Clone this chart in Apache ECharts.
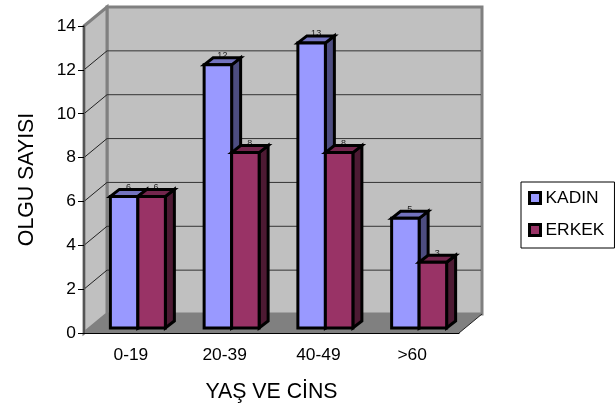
<!DOCTYPE html>
<html>
<head>
<meta charset="utf-8">
<style>
  html, body { margin: 0; padding: 0; background: #fff; }
  #main { width: 616px; height: 408px; }
</style>
<script src="https://cdn.jsdelivr.net/npm/echarts@6/dist/echarts.min.js"></script>
</head>
<body>
<div id="main"></div>
<script>
var categories = ['0-19', '20-39', '40-49', '>60'];
var kadin = [6, 12, 13, 5];
var erkek = [6, 8, 8, 3];
var yTicks = [2, 4, 6, 8, 10, 12, 14];

var FONT = '"Liberation Sans", Arial, sans-serif';
// depth of the fake 3d box
var WALL_DX = 23, WALL_DY = -19;
var BAR_W = 27.5, BAR_DX = 9, BAR_DY = -7;
var FRONT_DX = 7, FRONT_DY = -5;

function poly(points, fill, stroke, width, z2) {
  return {
    type: 'polygon',
    z2: z2 || 0,
    shape: { points: points },
    style: { fill: fill, stroke: stroke, lineWidth: width || 0, lineJoin: 'miter' }
  };
}

function line(x1, y1, x2, y2, color, width) {
  return {
    type: 'line',
    shape: { x1: x1, y1: y1, x2: x2, y2: y2 },
    style: { stroke: color, lineWidth: width }
  };
}

// walls, floor and gridlines
function renderWalls(params, api) {
  var o = api.coord([0, 0]);
  var half = api.size([1, 0])[0] / 2;
  var left = o[0] - half;
  var right = api.coord([categories.length - 1, 0])[0] + half;
  var bottom = o[1];
  var top = api.coord([0, 14])[1];
  var dx = WALL_DX, dy = WALL_DY;
  var children = [
    poly([[left + dx, top + dy], [right + dx, top + dy], [right + dx, bottom + dy], [left + dx, bottom + dy]], '#c0c0c0', '#808080', 3),
    poly([[left, top], [left + dx, top + dy], [left + dx, bottom + dy], [left, bottom]], '#c0c0c0', '#808080', 3),
    poly([[left, bottom], [left + dx, bottom + dy], [right + dx, bottom + dy], [right, bottom]], '#808080')
  ];
  yTicks.forEach(function (t) {
    var y = api.coord([0, t])[1];
    if (t < 14) {
      children.push(line(left + dx, y + dy, right + dx - 1, y + dy, '#333', 1));
    }
    children.push(line(left, y, left + dx, y + dy, t < 14 ? '#222' : '#808080', 1));
  });
  children.push(line(right, bottom, right + dx, bottom + dy, '#222', 1));
  return { type: 'group', children: children };
}

// one 3d bar: side is 0 for the left bar of a group, 1 for the right one
function barRenderer(side, front, topFace, sideFace) {
  return function (params, api) {
    var v = api.value(1);
    var p = api.coord([api.value(0), v]);
    var b = api.coord([api.value(0), 0]);
    var x0 = p[0] + FRONT_DX + (side - 1) * BAR_W;
    var x1 = x0 + BAR_W;
    var yt = p[1] + FRONT_DY;
    var yb = b[1] + FRONT_DY;
    return {
      type: 'group',
      children: [
        {
          type: 'text',
          style: {
            x: x0 + BAR_W / 2 + BAR_DX / 2,
            y: yt + BAR_DY - 2,
            text: String(v),
            fill: '#222',
            font: '9px ' + FONT,
            align: 'center',
            verticalAlign: 'middle'
          }
        },
        poly([[x1, yt], [x1 + BAR_DX, yt + BAR_DY], [x1 + BAR_DX, yb + BAR_DY], [x1, yb]], sideFace, '#000', 3),
        poly([[x0, yt], [x0 + BAR_DX, yt + BAR_DY], [x1 + BAR_DX, yt + BAR_DY], [x1, yt]], topFace, '#000', 3),
        poly([[x0, yt], [x1, yt], [x1, yb], [x0, yb]], front, '#000', 3)
      ]
    };
  };
}

var chart = echarts.init(document.getElementById('main'), null, { renderer: 'canvas' });
chart.setOption({
  animation: false,
  backgroundColor: '#fff',
  textStyle: { fontFamily: FONT },
  grid: { left: 84, right: 157, top: 26, bottom: 75, containLabel: false },
  legend: {
    left: 521,
    top: 182,
    orient: 'vertical',
    padding: [6, 10, 8, 7],
    itemGap: 12,
    itemWidth: 11,
    itemHeight: 11,
    borderColor: '#000',
    borderWidth: 1,
    backgroundColor: '#fff',
    selectedMode: false,
    textStyle: { fontFamily: FONT, fontSize: 17.4, lineHeight: 20, color: '#000', padding: [0, 0, 0, 0] },
    data: [
      { name: 'KADIN', icon: 'rect', itemStyle: { color: '#9999ff', borderColor: '#000', borderWidth: 3 } },
      { name: 'ERKEK', icon: 'rect', itemStyle: { color: '#993366', borderColor: '#000', borderWidth: 3 } }
    ]
  },
  xAxis: {
    type: 'category',
    data: categories,
    name: 'YAŞ VE CİNS',
    nameLocation: 'middle',
    nameGap: 49,
    nameTextStyle: { fontFamily: FONT, fontSize: 21.3, color: '#000' },
    axisLine: { onZero: false, lineStyle: { color: '#000', width: 1 } },
    axisTick: { alignWithLabel: false, length: 6, lineStyle: { color: '#000' } },
    axisLabel: { fontFamily: FONT, fontSize: 17.4, color: '#000', margin: 14 },
    z: 5
  },
  yAxis: {
    type: 'value',
    min: 0,
    max: 14,
    interval: 2,
    name: 'OLGU SAYISI',
    nameLocation: 'middle',
    nameGap: 46,
    nameTextStyle: { fontFamily: FONT, fontSize: 21.3, color: '#000' },
    splitLine: { show: false },
    axisLine: { show: true, lineStyle: { color: '#555', width: 2 } },
    axisTick: { show: true, length: 6, lineStyle: { color: '#000' } },
    axisLabel: { fontFamily: FONT, fontSize: 17.4, color: '#000', margin: 8 },
    z: 5
  },
  series: [
    { type: 'custom', name: 'walls', silent: true, clip: false, z: 1, renderItem: renderWalls, data: [[0, 0]] },
    { type: 'custom', name: 'KADIN', silent: true, clip: false, z: 2,
      renderItem: barRenderer(0, '#9999ff', '#7373bf', '#4d4d80'),
      data: kadin.map(function (v, i) { return [i, v]; }) },
    { type: 'custom', name: 'ERKEK', silent: true, clip: false, z: 3,
      renderItem: barRenderer(1, '#993366', '#73264d', '#4d1a33'),
      data: erkek.map(function (v, i) { return [i, v]; }) }
  ]
});
</script>
</body>
</html>
